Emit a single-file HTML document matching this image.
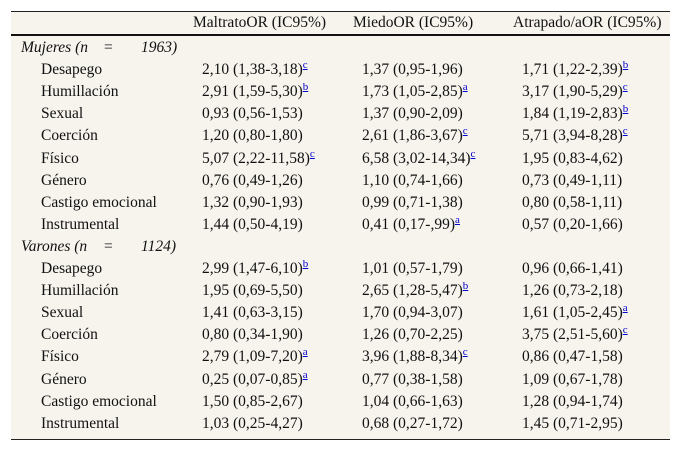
<!DOCTYPE html>
<html><head><meta charset="utf-8"><style>
body{margin:0;width:681px;height:451px;background:#fff;font-family:"Liberation Serif",serif;font-size:15.5px;color:#111;position:relative;overflow:hidden}
#tbl{position:absolute;left:11px;top:11px;width:659px;height:427px;background:#f7f4ee;border-top:1px solid #222;border-bottom:1px solid #222}
#hl{position:absolute;left:11px;top:34px;width:659px;height:2px;background:#111}
.t{position:absolute;white-space:nowrap;line-height:16px}
sup{font-size:11px;color:#00c;text-decoration:underline;vertical-align:6px;line-height:0}
i{font-style:italic}
</style></head><body>
<div id="tbl"></div>
<div id="hl"></div>
<div class="t" style="left:193px;top:15px">MaltratoOR (IC95%)</div>
<div class="t" style="left:353px;top:15px">MiedoOR (IC95%)</div>
<div class="t" style="left:513px;top:15px">Atrapado/aOR (IC95%)</div>
<div id="rows"></div>
<script>
const rows=[
["S","Mujeres (n","1963)"],
["Desapego","2,10 (1,38-3,18)|c","1,37 (0,95-1,96)","1,71 (1,22-2,39)|b"],
["Humillación","2,91 (1,59-5,30)|b","1,73 (1,05-2,85)|a","3,17 (1,90-5,29)|c"],
["Sexual","0,93 (0,56-1,53)","1,37 (0,90-2,09)","1,84 (1,19-2,83)|b"],
["Coerción","1,20 (0,80-1,80)","2,61 (1,86-3,67)|c","5,71 (3,94-8,28)|c"],
["Físico","5,07 (2,22-11,58)|c","6,58 (3,02-14,34)|c","1,95 (0,83-4,62)"],
["Género","0,76 (0,49-1,26)","1,10 (0,74-1,66)","0,73 (0,49-1,11)"],
["Castigo emocional","1,32 (0,90-1,93)","0,99 (0,71-1,38)","0,80 (0,58-1,11)"],
["Instrumental","1,44 (0,50-4,19)","0,41 (0,17-,99)|a","0,57 (0,20-1,66)"],
["S","Varones (n","1124)"],
["Desapego","2,99 (1,47-6,10)|b","1,01 (0,57-1,79)","0,96 (0,66-1,41)"],
["Humillación","1,95 (0,69-5,50)","2,65 (1,28-5,47)|b","1,26 (0,73-2,18)"],
["Sexual","1,41 (0,63-3,15)","1,70 (0,94-3,07)","1,61 (1,05-2,45)|a"],
["Coerción","0,80 (0,34-1,90)","1,26 (0,70-2,25)","3,75 (2,51-5,60)|c"],
["Físico","2,79 (1,09-7,20)|a","3,96 (1,88-8,34)|c","0,86 (0,47-1,58)"],
["Género","0,25 (0,07-0,85)|a","0,77 (0,38-1,58)","1,09 (0,67-1,78)"],
["Castigo emocional","1,50 (0,85-2,67)","1,04 (0,66-1,63)","1,28 (0,94-1,74)"],
["Instrumental","1,03 (0,25-4,27)","0,68 (0,27-1,72)","1,45 (0,71-2,95)"]
];
const c=document.getElementById('rows');
const colX=[202,362,522];
function add(x,y,html,name){const d=document.createElement('div');d.className='t';d.style.left=x+'px';d.style.top=y+'px';d.innerHTML=html;


c.appendChild(d);}
rows.forEach((r,i)=>{
 const y=40+i*22.1;
 if(r[0]==='S'){
  add(21,y,'<i>'+r[1]+'</i>','section-label');
  add(103,y,'<i>=</i>','section-eq');
  add(141,y,'<i>'+r[2]+'</i>','section-n');
 } else {
  add(41,y,r[0],'row-label');
  for(let j=0;j<3;j++){const p=r[j+1].split('|');
   add(colX[j],y,p[0]+(p[1]?'<sup>'+p[1]+'</sup>':''),'cell-value');}
 }
});
</script>
</body></html>
